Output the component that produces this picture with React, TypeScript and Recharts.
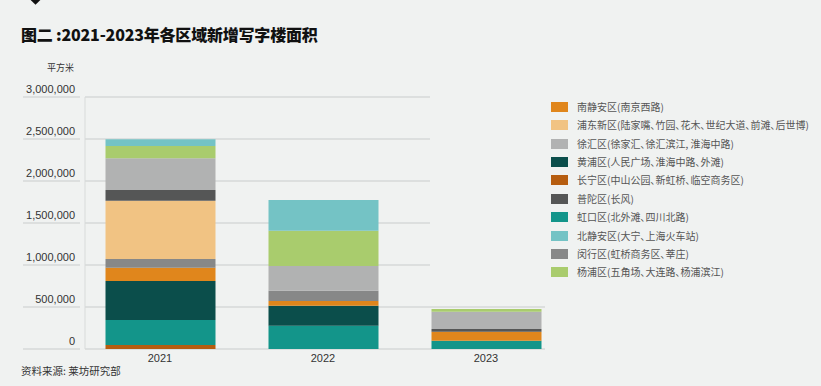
import { Bar, BarChart, CartesianGrid, XAxis, YAxis } from "recharts";

const years = ["2021", "2022", "2023"];

// 平方米, bottom-to-top stack order
const changning = [48000, 0, 0];
const hongkou = [298000, 277000, 99000];
const huangpu = [464000, 238000, 0];
const southJingan = [158000, 56000, 107000];
const minhang = [104000, 123000, 0];
const pudong = [694000, 0, 0];
const putuo = [127000, 0, 32000];
const xuhui = [377000, 294000, 206000];
const yangpu = [146000, 420000, 32000];
const northJingan = [80000, 365000, 0];

const yTicks = [0, 500000, 1000000, 1500000, 2000000, 2500000, 3000000];

const SERIES = [
  { key: "changning", name: "长宁区(中山公园、新虹桥、临空商务区)", color: "#b65d10", values: changning },
  { key: "hongkou", name: "虹口区(北外滩、四川北路)", color: "#13958a", values: hongkou },
  { key: "huangpu", name: "黄浦区(人民广场、淮海中路、外滩)", color: "#0b4e4b", values: huangpu },
  { key: "southJingan", name: "南静安区(南京西路)", color: "#e0861c", values: southJingan },
  { key: "minhang", name: "闵行区(虹桥商务区、莘庄)", color: "#878888", values: minhang },
  { key: "pudong", name: "浦东新区(陆家嘴、竹园、花木、世纪大道、前滩、后世博)", color: "#f1c383", values: pudong },
  { key: "putuo", name: "普陀区(长风)", color: "#555656", values: putuo },
  { key: "xuhui", name: "徐汇区(徐家汇、徐汇滨江, 淮海中路)", color: "#b1b2b2", values: xuhui },
  { key: "yangpu", name: "杨浦区(五角场、大连路、杨浦滨江)", color: "#a9cc6d", values: yangpu },
  { key: "northJingan", name: "北静安区(大宁、上海火车站)", color: "#74c3c5", values: northJingan },
];

const LEGEND_ORDER = ["southJingan", "pudong", "xuhui", "huangpu", "changning", "putuo", "hongkou", "northJingan", "minhang", "yangpu"];

const data = years.map((year, i) => {
  const row: Record<string, string | number> = { year };
  SERIES.forEach((s) => (row[s.key] = s.values[i]));
  return row;
});

const BG = "#f0f2f1";
const FONT = "'Liberation Sans', Arial, 'Noto Sans CJK SC', sans-serif";
const CJK = "'Noto Sans CJK SC', sans-serif";

function YTick({ y, payload }: any) {
  return (
    <g>
      <text x={75} y={y - 8} dy="0.35em" textAnchor="end" fontSize={11} fill="#333" fontFamily={FONT}>
        {Number(payload.value).toLocaleString("en-US")}
      </text>
      <line x1={23} x2={80} y1={y} y2={y} stroke="#c9cccc" strokeWidth={1} />
    </g>
  );
}

export default function App() {
  return (
    <div style={{ position: "absolute", left: 0, top: 0, width: 821, height: 386, background: BG, overflow: "hidden", fontFamily: CJK }}>
      <div style={{ position: "absolute", left: 31, top: -6, width: 9, height: 9, background: "#111", transform: "rotate(45deg)" }} />
      <div style={{ position: "absolute", left: 21, top: 23, fontSize: 16, fontWeight: 900, color: "#111", lineHeight: "22px", whiteSpace: "nowrap", letterSpacing: -0.2 }}>
        图二 :2021-2023年各区域新增写字楼面积
      </div>
      <div style={{ position: "absolute", left: 40, width: 34, top: 61, fontSize: 9, color: "#333", textAlign: "right", lineHeight: "14px" }}>平方米</div>

      <BarChart width={821} height={386} data={data} margin={{ top: 97, right: 276, left: 0, bottom: 17 }} barSize={110}>
        <CartesianGrid vertical={false} stroke="#c9cccc" />
        <XAxis
          dataKey="year"
          axisLine={false}
          tickLine={false}
          height={20}
          padding={{ left: -6.5, right: -22.5 }}
          tick={{ fontSize: 11, fill: "#333", fontFamily: FONT }}
          dy={-3}
        />
        <YAxis
          width={85}
          domain={[0, 3000000]}
          ticks={yTicks}
          tickLine={false}
          axisLine={{ stroke: "#d8dbda" }}
          tick={<YTick />}
          interval={0}
        />
        {SERIES.map((s) => (
          <Bar key={s.key} dataKey={s.key} stackId="a" fill={s.color} isAnimationActive={false} />
        ))}
      </BarChart>

      <div style={{ position: "absolute", left: 430, top: 90, width: 391, height: 202, background: BG }}>
        {LEGEND_ORDER.map((k, i) => {
          const s = SERIES.find((x) => x.key === k)!;
          return (
            <div key={k} style={{ position: "absolute", left: 121, top: 16.7 + i * 18.4 - 7, height: 14, display: "flex", alignItems: "center", whiteSpace: "nowrap" }}>
              <span style={{ width: 17, height: 10, background: s.color, display: "inline-block" }} />
              <span style={{ marginLeft: 9, fontSize: 10, color: "#555", lineHeight: "14px", fontFeatureSettings: '"palt"' }}>{s.name}</span>
            </div>
          );
        })}
      </div>

      <div style={{ position: "absolute", left: 21, top: 363, fontSize: 10.5, color: "#333", lineHeight: "16px" }}>资料来源: 莱坊研究部</div>
    </div>
  );
}
